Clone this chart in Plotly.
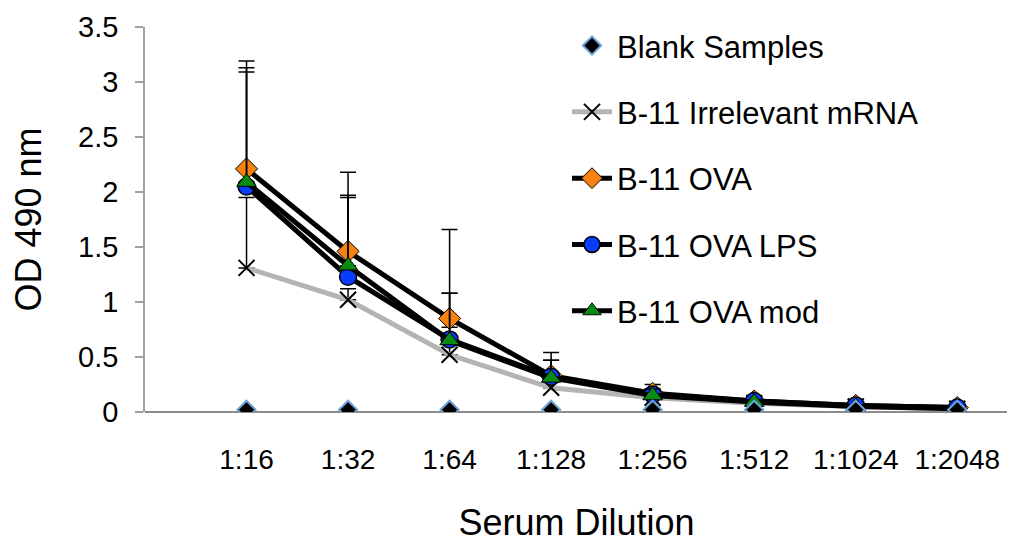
import plotly.graph_objects as go

dilutions = ["1:16", "1:32", "1:64", "1:128", "1:256", "1:512", "1:1024", "1:2048"]
blank = [0.02, 0.02, 0.02, 0.02, 0.02, 0.02, 0.02, 0.02]
irrelevant = [1.31, 1.02, 0.52, 0.22, 0.13, 0.08, 0.05, 0.03]
irrelevant_err = [0.64, 0.10, 0.25, 0.05, 0.03, 0.02, 0.01, 0.01]
ova = [2.21, 1.46, 0.85, 0.33, 0.17, 0.10, 0.06, 0.04]
ova_err = [0.98, 0.72, 0.81, 0.21, 0.08, 0.03, 0.02, 0.01]
ova_lps = [2.05, 1.23, 0.66, 0.32, 0.16, 0.10, 0.06, 0.04]
ova_lps_err = [1.08, 0.72, 0.42, 0.15, 0.05, 0.02, 0.01, 0.01]
ova_mod = [2.09, 1.33, 0.65, 0.31, 0.15, 0.09, 0.05, 0.03]
ova_mod_err = [1.00, 0.64, 0.43, 0.16, 0.06, 0.02, 0.01, 0.01]

xi = list(range(len(dilutions)))
FONT = "Liberation Sans, Arial, sans-serif"

def err(arr):
    return dict(type="data", array=arr, arrayminus=[0] * len(arr), symmetric=False,
                color="black", thickness=1.5, width=8)

fig = go.Figure()
fig.add_trace(go.Scatter(
    x=xi, y=irrelevant, name="B-11 Irrelevant mRNA", mode="lines+markers",
    line=dict(color="#b4b4b4", width=5),
    marker=dict(symbol="x-thin", size=16, color="black", line=dict(color="black", width=2)),
    error_y=err(irrelevant_err), legendgroup="g2", legendrank=2))
fig.add_trace(go.Scatter(
    x=xi, y=ova, name="B-11 OVA", mode="lines+markers",
    line=dict(color="black", width=5),
    marker=dict(symbol="diamond", size=17, color="#f7820f", line=dict(color="black", width=1)),
    error_y=err(ova_err), legendgroup="g3", legendrank=3))
fig.add_trace(go.Scatter(
    x=xi, y=ova_lps, name="B-11 OVA LPS", mode="lines+markers",
    line=dict(color="black", width=5),
    marker=dict(symbol="circle", size=17, color="#0a3cff", line=dict(color="black", width=1.5)),
    error_y=err(ova_lps_err), legendgroup="g4", legendrank=4))
fig.add_trace(go.Scatter(
    x=xi, y=ova_mod, name="B-11 OVA mod", mode="lines+markers",
    line=dict(color="black", width=5),
    marker=dict(symbol="triangle-up", size=17, color="#0a8a12", line=dict(color="black", width=1)),
    error_y=err(ova_mod_err), legendgroup="g5", legendrank=5))
fig.add_trace(go.Scatter(
    x=xi, y=blank, name="Blank Samples", mode="markers",
    marker=dict(symbol="diamond", size=14, color="black", line=dict(color="#6fa3d8", width=2)),
    legendgroup="g1", legendrank=1))

fig.update_layout(
    width=1015, height=545,
    margin=dict(l=137, r=15, t=19, b=141, autoexpand=False),
    paper_bgcolor="white", plot_bgcolor="white",
    font=dict(family=FONT, color="black"),
    showlegend=True,
    legend=dict(x=0.489, xanchor="left", y=1.021, yanchor="top",
                font=dict(size=31, family=FONT), bgcolor="rgba(0,0,0,0)",
                traceorder="grouped", tracegroupgap=23, itemwidth=40,
                maxheight=520),
    xaxis=dict(range=[-1, 7.5], tickmode="array", tickvals=xi, ticktext=dilutions,
               showgrid=False, zeroline=False, showline=False, ticks="",
               tickfont=dict(size=28), ticklabelstandoff=28, automargin=False,
               title=dict(text="Serum Dilution", font=dict(size=36), standoff=35)),
    yaxis=dict(range=[0, 3.5], tickvals=[0, 0.5, 1, 1.5, 2, 2.5, 3, 3.5],
               ticktext=["0", "0.5", "1", "1.5", "2", "2.5", "3", "3.5"],
               showgrid=False, zeroline=True, zerolinecolor="#8c8c8c", zerolinewidth=2,
               showline=True, linecolor="#a0a0a0", linewidth=1.5,
               ticks="outside", ticklen=8, tickcolor="#a0a0a0", tickwidth=1.5,
               tickfont=dict(size=29), ticklabelstandoff=11, automargin=False,
               ticklabeloverflow="allow",
               title=dict(text="OD 490 nm", font=dict(size=36), standoff=28)),
)

fig.write_html("out.html")
